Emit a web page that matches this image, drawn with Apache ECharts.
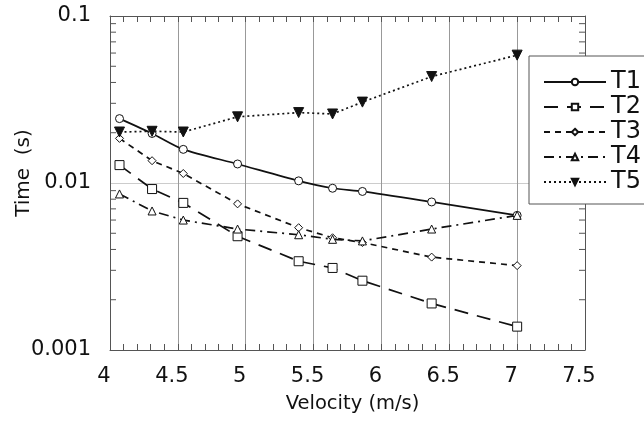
<!DOCTYPE html>
<html>
<head>
<meta charset="utf-8">
<script src="https://cdn.jsdelivr.net/npm/echarts@6/dist/echarts.min.js"></script>
<style>
  html, body { margin: 0; padding: 0; background: #fff; }
  #main { width: 644px; height: 422px; }
</style>
</head>
<body>
<div id="main"></div>
<script>
// velocity (m/s) of each measurement
var velocity = [4.07, 4.31, 4.54, 4.94, 5.39, 5.64, 5.86, 6.37, 7.0];
// time (s) per series
var t1 = [0.0243, 0.0198, 0.0159, 0.0130, 0.0103, 0.0093, 0.0089, 0.0077, 0.0064];
var t2 = [0.0128, 0.0092, 0.0076, 0.0048, 0.0034, 0.0031, 0.0026, 0.0019, 0.00138];
var t3 = [0.0185, 0.0136, 0.0114, 0.0075, 0.0054, 0.0047, 0.0044, 0.0036, 0.0032];
var t4 = [0.0086, 0.0068, 0.0060, 0.0053, 0.0049, 0.0046, 0.0045, 0.0053, 0.0064];
var t5 = [0.0202, 0.0204, 0.0202, 0.0249, 0.0264, 0.0259, 0.0305, 0.0434, 0.0583];
var seriesNames = ['T1', 'T2', 'T3', 'T4', 'T5'];
// y tick labels (log axis) and the minor ticks of each decade
var yLabels = ['0.001', '0.01', '0.1'];
var yMinor = [0.002, 0.003, 0.004, 0.005, 0.006, 0.007, 0.008, 0.009,
              0.02, 0.03, 0.04, 0.05, 0.06, 0.07, 0.08, 0.09];

function pairs(ys) {
  var out = [];
  for (var i = 0; i < velocity.length; i++) out.push([velocity[i], ys[i]]);
  return out;
}

var FONT = 'DejaVu Sans';
var black = '#111';
var frame = '#555';

function lineSeries(name, ys, dash, symbol, size, filled, rotate, smooth) {
  return {
    name: name,
    type: 'line',
    data: pairs(ys),
    smooth: smooth || false,
    symbol: symbol,
    symbolSize: size,
    symbolRotate: rotate || 0,
    showAllSymbol: true,
    lineStyle: { color: black, width: 1.7, type: dash },
    itemStyle: { color: filled ? black : '#fff', borderColor: black, borderWidth: 1 },
    z: 3
  };
}

var series = [
  lineSeries('T1', t1, 'solid', 'circle', 8, false, 0, 0.25),
  lineSeries('T2', t2, [14, 9], 'rect', 9, false),
  lineSeries('T3', t3, [6, 5], 'diamond', 8, false),
  lineSeries('T4', t4, [10, 5, 2, 5], 'triangle', 8, false),
  lineSeries('T5', t5, [2, 3], 'triangle', 10, true, 180),
  {
    // minor ticks of the log axis, drawn on both the left and right frame
    type: 'custom',
    silent: true,
    data: yMinor,
    encode: { x: -1, y: 0 },
    renderItem: function (params, api) {
      var v = api.value(0);
      var l = api.coord([4, v]);
      var r = api.coord([7.5, v]);
      var st = { stroke: frame, lineWidth: 1 };
      return {
        type: 'group',
        children: [
          { type: 'line', shape: { x1: l[0], y1: l[1], x2: l[0] + 6, y2: l[1] }, style: st },
          { type: 'line', shape: { x1: r[0], y1: r[1], x2: r[0] - 6, y2: r[1] }, style: st }
        ]
      };
    },
    z: 1
  }
];

var option = {
  animation: false,
  backgroundColor: '#fff',
  textStyle: { fontFamily: FONT },
  grid: { left: 110, right: 59, top: 16, bottom: 72, containLabel: false, outerBoundsMode: 'none' },
  legend: {
    data: seriesNames,
    orient: 'vertical',
    left: 529,
    top: 56,
    itemWidth: 62,
    itemHeight: 8,
    itemGap: 1,
    padding: [14, 60, 10, 14],
    backgroundColor: '#fff',
    borderColor: frame,
    borderWidth: 1,
    textStyle: { fontFamily: FONT, fontSize: 24, color: black, lineHeight: 20 }
  },
  xAxis: [{
    type: 'value',
    min: 4,
    max: 7.5,
    interval: 0.5,
    name: 'Velocity (m/s)',
    nameLocation: 'middle',
    nameGap: 44,
    nameTextStyle: { fontFamily: FONT, fontSize: 19.5, color: black, padding: [0, 0, 0, 10] },
    axisLine: { show: true, onZero: false, lineStyle: { color: frame, width: 1 } },
    axisTick: { show: true, inside: true, length: 6, lineStyle: { color: frame } },
    minorTick: { show: true, splitNumber: 5, length: 6, lineStyle: { color: frame } },
    axisLabel: {
      margin: 16,
      fontFamily: FONT,
      fontSize: 21,
      color: black,
      padding: [0, 12, 0, 0],
      formatter: function (v) { return String(v); }
    },
    splitLine: { show: true, lineStyle: { color: '#999', width: 1 } }
  }, {
    type: 'value',
    position: 'top',
    min: 4,
    max: 7.5,
    interval: 0.5,
    axisLine: { show: true, onZero: false, lineStyle: { color: frame, width: 1 } },
    axisTick: { show: true, inside: true, length: 6, lineStyle: { color: frame } },
    minorTick: { show: true, splitNumber: 5, length: 6, lineStyle: { color: frame } },
    axisLabel: { show: false },
    splitLine: { show: false }
  }],
  yAxis: [{
    type: 'log',
    logBase: 10,
    min: 0.001,
    max: 0.1,
    name: 'Time  (s)',
    nameLocation: 'middle',
    nameGap: 76,
    nameMoveOverlap: false,
    nameTextStyle: { fontFamily: FONT, fontSize: 20, color: black, padding: [0, 0, 0, 20] },
    axisLine: { show: true, onZero: false, lineStyle: { color: frame, width: 1 } },
    axisTick: { show: false },
    axisLabel: {
      margin: 19,
      fontFamily: FONT,
      fontSize: 21,
      color: black,
      formatter: function (v) {
        var e = Math.round(Math.log(v) / Math.LN10);
        return yLabels[e + 3];
      }
    },
    splitLine: { show: true, lineStyle: { color: '#ccc', width: 1 } }
  }, {
    type: 'log',
    logBase: 10,
    min: 0.001,
    max: 0.1,
    position: 'right',
    axisLine: { show: true, onZero: false, lineStyle: { color: frame, width: 1 } },
    axisTick: { show: false },
    axisLabel: { show: false },
    splitLine: { show: false }
  }],
  series: series
};

var myChart = echarts.init(document.getElementById('main'), null, { renderer: 'canvas' });
myChart.setOption(option);
</script>
</body>
</html>
